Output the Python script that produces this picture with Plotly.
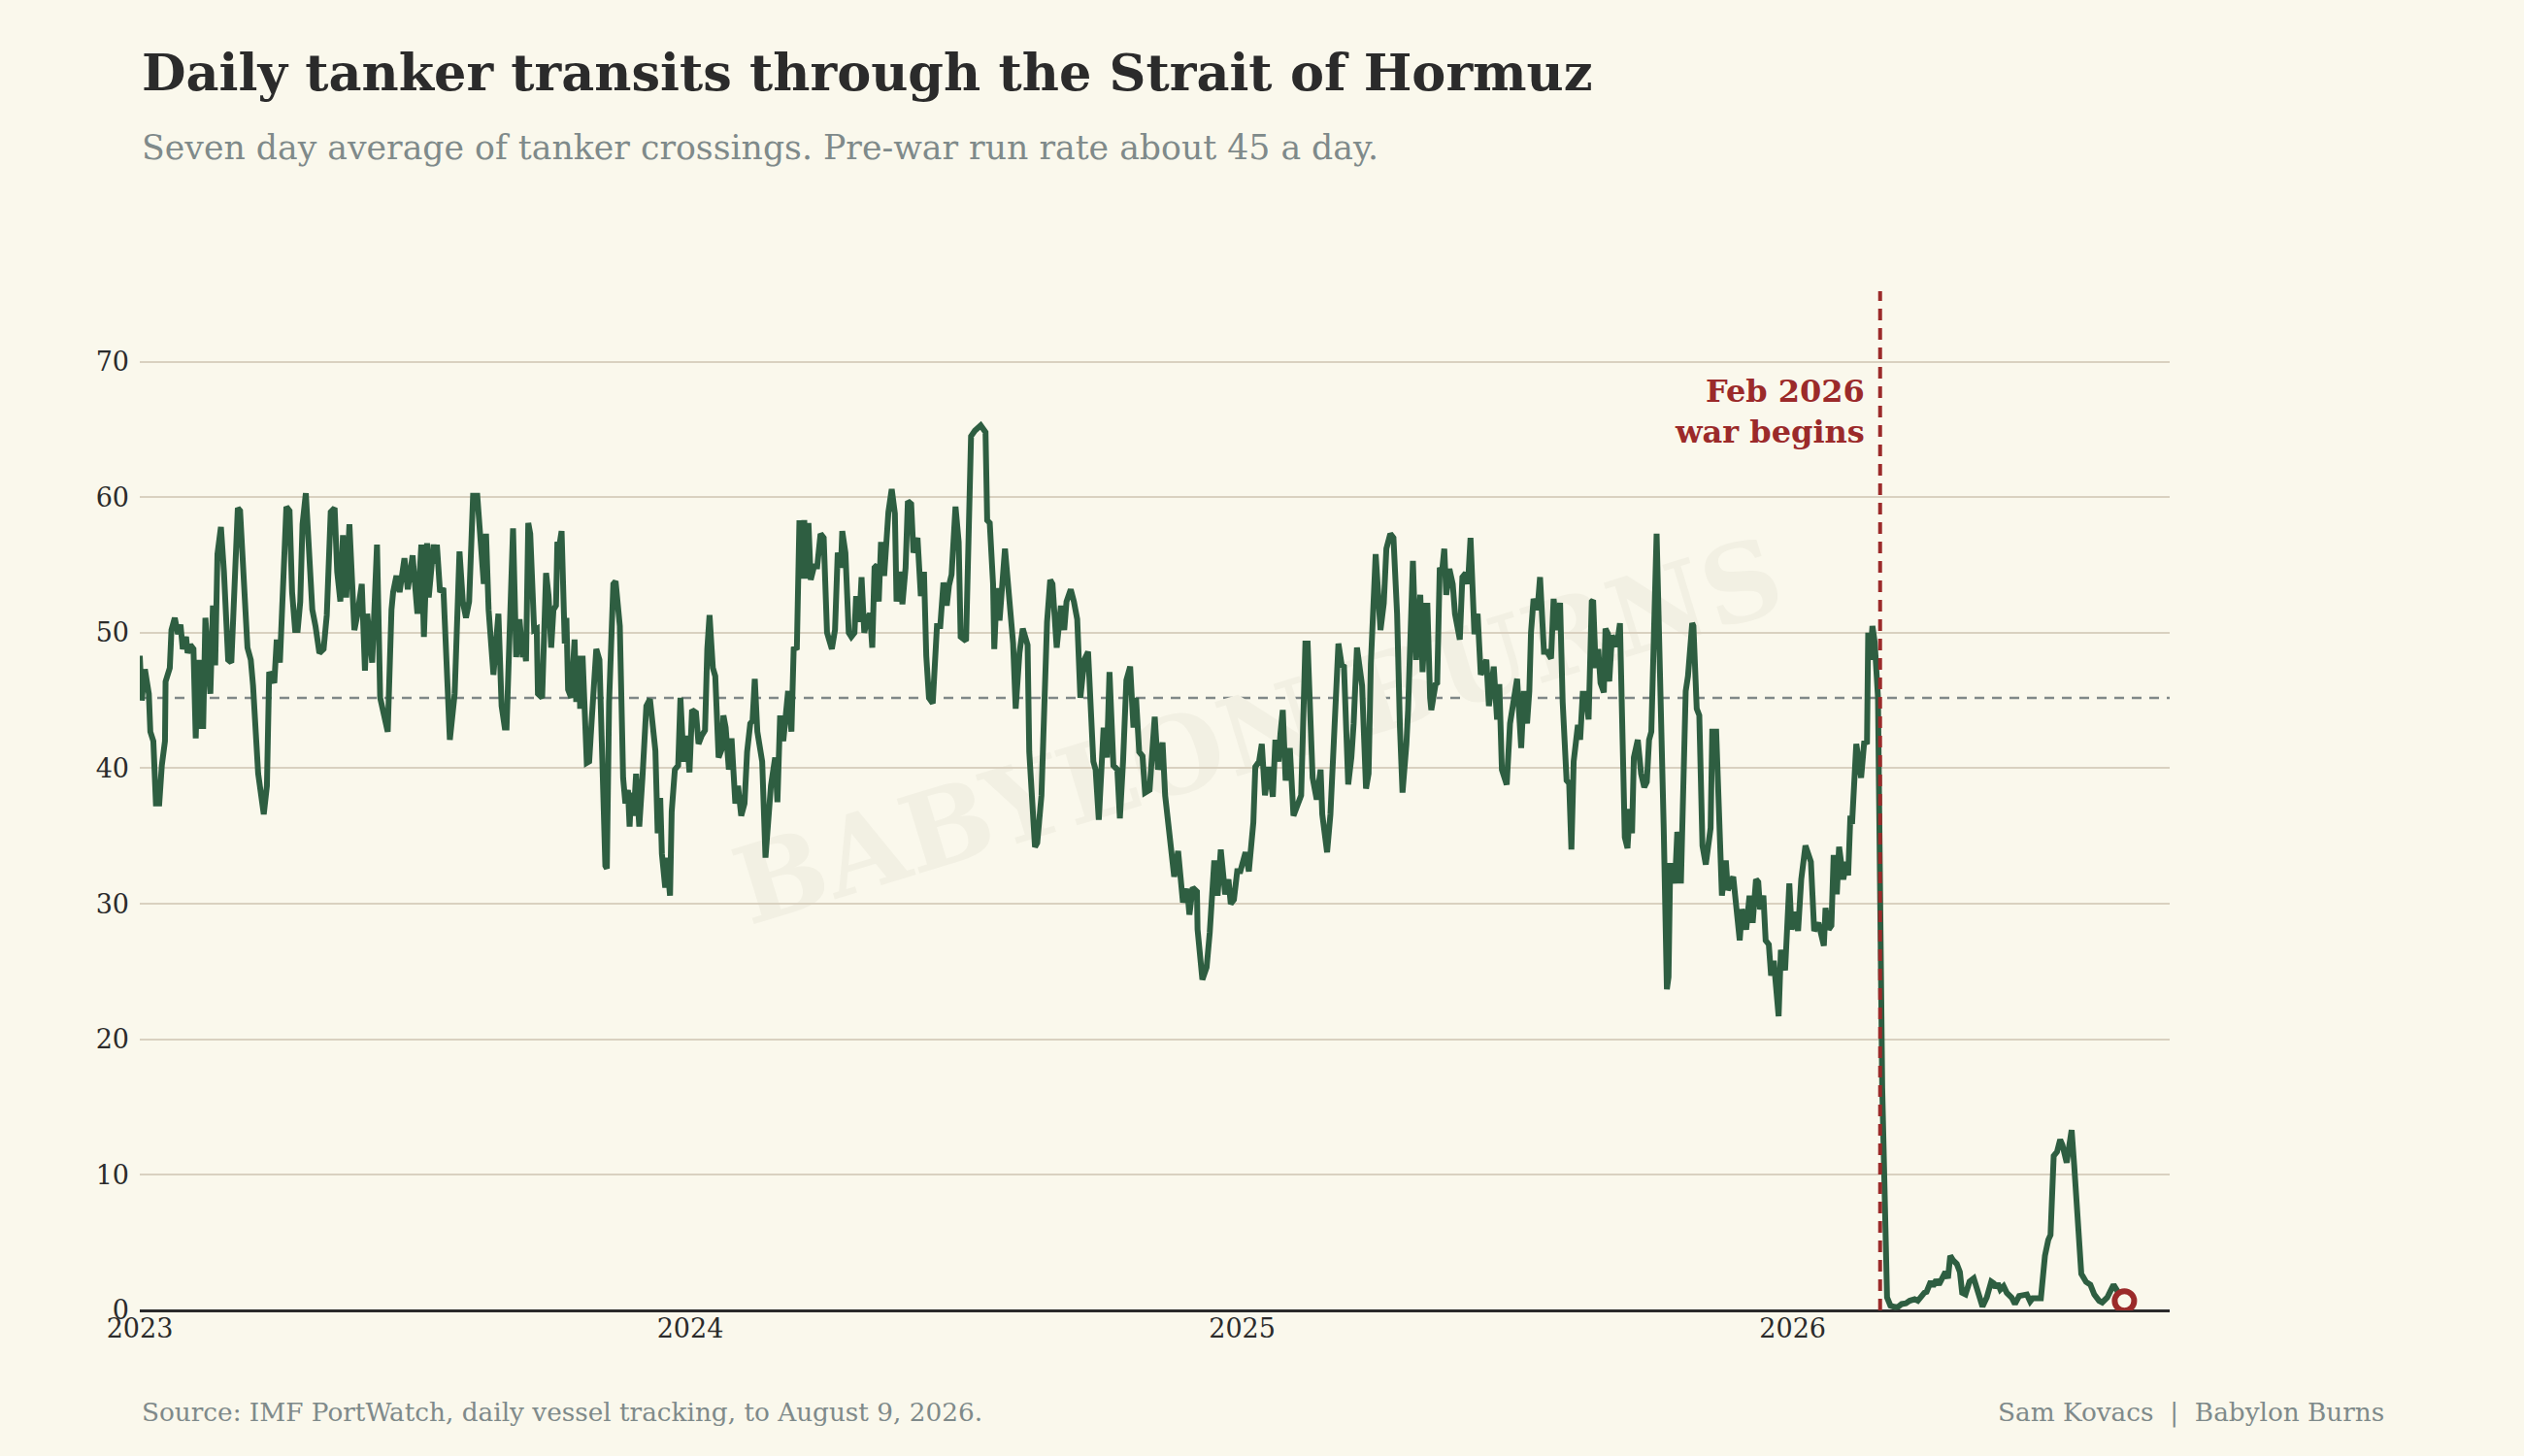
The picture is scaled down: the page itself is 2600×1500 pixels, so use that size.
import pandas as pd
import plotly.graph_objects as go

# days since 2023-01-01
day = [0, 1.3, 3.4, 6, 7, 9, 10.7, 12.9, 14.6, 16.7, 17.1, 19.9, 21, 23.2, 25.3, 27, 28.5, 30.7, 31.7, 33.5,
       35.6, 37.1, 38.6, 40.3, 41.4, 42, 43.5, 46.8, 48.5, 50, 51.5, 53.8, 55.8, 57.5, 58.6, 60.7, 62.9, 65,
       66.5, 69.3, 71.4, 73.6, 75.1, 78.5, 82.2, 84.3, 85.8, 89.2, 90.8, 92.9, 97.2, 99.3, 101, 103, 104.7,
       106.4, 107.9, 110.1, 112.2, 114.4, 116.5, 119.1, 121.9, 124, 126.6, 129.2, 130.9, 133, 134.7, 136.9,
       139, 142.3, 144.4, 147.2, 149.3, 150.8, 154.1, 157.3, 159.4, 161.6, 164.4, 166.9, 168, 170.2, 172.3,
       175.5, 177.7, 180.9, 184.1, 186.7, 188.4, 190.5, 191.6, 194.8, 195.9, 197, 199.1, 201.3, 202.3, 205.6,
       208.8, 212, 214.2, 216.3, 218.4, 219.5, 221, 223.8, 226, 228.1, 229.6, 231.3, 234.5, 236.7, 237.8,
       239.9, 242, 243.2,
       247.5, 249.6, 251.8, 253.9, 255, 256.1, 257.6, 258.9, 260.4, 261.5, 263.2, 264, 266.8, 269.4, 271.1,
       272.8, 274.3, 276, 276.9, 278.2, 279.7, 280.8, 281.8, 282.9, 284, 286.1, 288.3, 289.4, 291.1, 292,
       293.6, 296.4, 298, 299.7, 302.7, 304, 304.8, 308.7, 309.7, 311.2, 314, 315.5, 318.3, 320.5, 322,
       323.7, 324.8, 325.8, 327.5, 329.1, 331.2, 333.3, 335.9, 338.3, 341.9, 343.4, 345.1, 346.2, 348.4,
       349.4, 351.6, 352.7, 354.8, 357, 358.5, 360.6, 362.7, 364.5, 366.2, 368.8, 370.5, 372.6, 374.8,
       376.3, 377.8, 380, 381.6, 383.8, 385.9, 387, 388.5, 390.6, 392.4, 394.9, 396.7, 398.8, 401, 402.7,
       404.8, 406.3, 407.8, 409.5, 411.7, 412.7, 414.9, 417, 418.5, 421.3, 422.8, 424.6, 426.7, 429.9,
       432.1, 433.6, 435.7, 437.4, 439.1, 440.6, 442.1, 443.4, 444.9, 447.1, 449.2, 451.4, 453.5, 455.7,
       458.9, 461, 462.8, 464.9, 465.8, 467.9, 470.1, 471.8, 473.9, 475, 477.1, 478.6, 480.4,
       482.5, 484.2, 485.7, 487.2, 488.9, 490, 491.5, 493.6, 496.4, 498.6, 500.7, 501.8, 503.9, 505.7,
       507.8, 509.3, 511.5, 513, 515.7, 517.9, 520, 521.5, 523.3, 525.8, 528.6, 530.8, 532.9, 535.1, 536.6,
       538.3, 540.9, 543, 544.3, 547.9, 551.2, 553.7, 557.6, 560.8, 561.9, 563.6, 565.8, 566.6, 568.3,
       570.1, 573.7, 575.8, 578, 579.1, 580.8, 583.3, 585.5, 588.7, 589.8, 593.6, 595.1, 597.9, 601.6,
       603.7, 605.2, 608, 610.8, 613, 614.5, 617.3, 619.4, 621.6, 623.7, 626.3, 628.8, 632.3, 633.8, 635.9,
       639.1, 641.3, 643, 645.6, 648.2, 649.9, 652, 654.2, 656.7, 658.9, 660.6, 662.7, 664.9, 666.6, 669.6,
       673, 675.2, 678.2, 679.9, 682.1, 685.9, 688.5, 691.7, 694.5, 696, 698.2, 701, 701.4, 704.6, 707.4,
       709.5, 712.5, 714.7, 716.8, 718.5,
       719.7, 721.9, 723.4, 725.5, 727.7, 729.8, 733.2, 735.4, 736.9, 738.4, 739.7, 742.2, 744, 746.1,
       748.7, 751.3, 753, 755.1, 756.4, 757.9, 759.8, 762.6, 765, 768.4, 770.1, 772.9, 774.4, 777.7, 780.4,
       783, 784.1, 787.3, 789.5, 794.8, 797, 798.5, 801.3, 803.4, 804.9, 807.1, 810.5, 813.1, 814.8, 816.3,
       819.5, 822.7, 824.9, 826.6, 829.2, 831.3, 833.7, 835.6, 837.3, 839.9, 841, 844.2, 846.3, 849.1,
       850.6, 852.8, 853.8, 855.6, 856.4, 859.2, 860.3, 862, 863.5, 865, 866.3, 868.4, 870.6, 872.1, 875.3,
       877, 879.2, 880.7, 882.4, 885, 887.1, 889.2, 892.9, 894.6, 897.8, 900, 901.5, 903.2, 906.4, 908.6,
       910.7, 913.3, 916, 917.8, 919.9, 921.4, 922.5, 924.2, 926.8, 928.5, 931.1, 933.2, 935.8, 937.5,
       939.7, 941.8, 943.5, 946.1, 947.8, 949.3, 950.8, 953.6, 955.1, 956.8,
       958.6, 960.7, 962.8, 963.7, 965.4, 967.1, 968.6, 970.8, 971.9, 973.6, 974.4, 976.2, 977.9, 979.4,
       981.5, 982.6, 984.7, 986.5, 988, 989.5, 990.7, 993.3, 995.5, 997.6, 999.3, 1000.8, 1002.3, 1005.8,
       1007.3, 1010.5, 1012.6, 1013.7, 1014.8, 1016.5, 1018, 1019.5, 1020.8, 1021.9, 1025.1, 1026.6,
       1029.4, 1030.2, 1032.4, 1034.1, 1036.2, 1038.4, 1041.6, 1042.7, 1045.3, 1047.4, 1049.1, 1051.7,
       1053, 1056.6, 1058.8, 1060.9, 1062.4, 1065.2, 1067.4, 1069.5, 1071.7, 1073.2, 1074.4, 1076.6,
       1078.1, 1080.2, 1081.7, 1083.5, 1086.7, 1088.2, 1091, 1093.8, 1095.3, 1097.4, 1099.6, 1101.7,
       1104.5, 1108.1, 1110.3, 1113.1, 1116.7, 1117.8, 1119.9, 1121.7, 1123.2, 1125.3, 1126.8, 1129.6,
       1131.7, 1132.8, 1134.3, 1135.4, 1138.2, 1141.4, 1143.5, 1145.3, 1146.1, 1147.4, 1148.9, 1150.4,
       1152.6, 1153.8, 1155.4,
       1158.6, 1160.8, 1164, 1166.1, 1168.3, 1171.1, 1173.6, 1176.9, 1179, 1181.2, 1183.3, 1184.8, 1187.6,
       1189.1, 1191.2, 1193, 1195.1, 1197.3, 1199, 1200.5, 1202.6, 1204.8, 1206.9, 1208.4, 1210.6, 1213.3,
       1216.1, 1217.6, 1219.8, 1221.9, 1224.7, 1227.7, 1229.4, 1230.5, 1232, 1233.7, 1235.9, 1238, 1241.2,
       1243.4, 1246.2, 1248.8, 1251.3, 1253.5, 1255.2, 1260.6, 1261.6, 1263.3, 1265.5, 1267, 1269.1,
       1271.3, 1273.4, 1274.9, 1277.7, 1279.2, 1281, 1282.7, 1284.4, 1285.2, 1287.4, 1290.6, 1293.4, 1296,
       1299.2, 1301.3, 1304.6, 1306.7, 1308.8, 1311, 1313.1, 1316]

tankers = [48.3, 45.0, 47.3, 45.5, 42.7, 42.0, 37.4, 37.4, 40.2, 42.0, 46.4, 47.4, 50.2, 51.1, 49.9, 50.6, 48.8,
           49.7, 48.5, 49.1, 48.8, 42.2, 48.0, 42.9, 48.0, 42.9, 51.1, 45.5, 52.0, 47.6, 55.8, 57.8, 54.5, 50.2,
           48.0, 47.8, 54.5, 59.2, 59.0, 52.3, 48.9, 48.0, 46.1, 39.6, 36.6, 38.7, 47.1, 46.3, 49.5, 47.8, 59.3,
           59.0, 53.0, 50.2, 50.2, 52.3, 58.0, 60.3, 55.1, 51.7, 50.5, 48.5, 48.8, 51.3, 58.9, 59.2, 54.5, 52.3,
           57.2, 52.6, 58.0, 50.2, 51.4, 53.6, 47.2, 51.4, 47.8, 56.5, 45.2, 44.0, 42.7, 51.7, 53.0, 54.2, 53.0,
           55.5, 53.2, 55.7, 51.4, 56.5, 49.7, 56.6, 52.6, 56.5, 55.1, 56.5, 53.0, 53.3, 51.1, 42.1, 45.5, 56.0,
           52.3, 51.1, 52.3, 57.3, 60.1, 60.1, 57.0, 53.6, 57.3, 51.7, 46.9, 50.3, 51.4, 44.6, 43.0, 43.0,
           57.7, 48.2, 51.0, 48.2, 49.1, 47.9, 58.1, 57.3, 53.3, 50.2, 50.3, 45.5, 45.2, 54.4, 52.7, 48.9, 51.7,
           52.0, 56.7, 56.4, 57.5, 51.1, 49.2, 51.1, 45.8, 45.2, 49.5, 44.9, 48.3, 44.4, 48.3, 40.4, 40.5, 43.6,
           48.8, 48.3, 48.0, 32.8, 32.6, 44.9, 53.6, 53.8, 50.5, 39.3, 37.4, 38.4, 35.7, 38.2, 36.5, 39.6, 35.7,
           39.3, 44.6, 45.1, 41.3, 35.2, 37.8, 33.7, 31.2, 33.4, 30.6, 36.8, 39.9, 40.2, 45.2, 40.5, 42.4, 39.7,
           44.3, 44.1, 41.8, 42.4, 42.8, 48.8, 51.3, 47.4, 46.8, 40.8, 41.4, 43.9, 43.0, 39.9, 42.2, 37.4, 38.7,
           36.5, 37.4, 41.2, 43.3, 43.5, 46.6, 42.7, 40.8, 40.5, 33.4, 36.5, 38.7, 40.8, 37.5, 43.9, 42.0, 45.7,
           42.7, 48.8, 48.9, 58.3, 54.0, 58.3, 54.0, 58.1, 53.9, 54.9, 54.9, 57.3, 57.0, 50.0, 48.8, 50.2, 55.9,
           54.8, 57.5, 55.9, 50.0, 49.7, 50.0, 52.7, 50.8, 54.1, 50.0,
           51.1, 51.4, 48.9, 54.8, 55.0, 52.3, 56.7, 54.2, 58.9, 60.6, 58.8, 52.3, 54.5, 52.1, 54.8, 59.7, 59.5,
           55.9, 57.0, 52.7, 54.5, 48.3, 45.2, 44.8, 50.5, 50.5, 53.7, 52.0, 53.5, 54.3, 59.3, 56.7, 49.7, 49.4,
           64.5, 64.9, 65.3, 64.8, 58.3, 58.1, 53.6, 48.8, 53.3, 50.9, 56.2, 53.6, 51.7, 49.2, 44.4, 48.5, 50.3,
           49.1, 41.2, 34.2, 34.5, 38.0, 50.8, 53.9, 53.6, 48.9, 52.0, 50.2, 52.3, 53.2, 52.3, 51.0, 45.2, 48.0,
           48.6, 40.5, 39.9, 36.2, 43.0, 40.8, 47.1, 40.2, 39.9, 36.3, 40.5, 46.5, 47.5, 43.0, 45.2, 41.2, 40.9,
           38.2, 38.4, 43.8, 39.9, 41.9, 38.0, 35.9, 32.0, 33.9, 30.1, 31.1, 29.2, 31.2, 30.9, 28.1, 24.4, 25.3,
           27.9, 33.2, 30.6, 34.0, 31.2,
           30.7, 31.8, 30.0, 30.3, 32.4, 32.4, 33.8, 32.4, 34.6, 36.0, 40.1, 40.5, 41.8, 38.0, 40.1, 37.9, 42.1,
           40.5, 42.6, 44.3, 39.1, 41.5, 36.5, 37.7, 38.0, 49.2, 49.2, 39.3, 37.7, 39.9, 36.6, 33.8, 36.6, 49.2,
           47.6, 47.5, 38.8, 40.8, 43.3, 48.9, 46.1, 38.5, 39.6, 47.7, 55.8, 50.2, 52.2, 56.2, 57.3, 57.0, 51.4,
           43.0, 38.2, 41.8, 44.3, 55.3, 48.0, 52.8, 47.1, 52.0, 52.0, 45.2, 44.3, 46.2, 46.3, 54.8, 54.5, 56.2,
           52.8, 54.7, 53.6, 51.4, 49.5, 54.1, 54.4, 53.6, 57.0, 49.9, 51.4, 46.9, 48.0, 44.6, 47.5, 43.6, 46.2,
           39.9, 38.8, 43.3, 44.7, 46.6, 41.5, 45.7, 43.3, 45.7, 50.0, 52.5, 51.7, 54.1, 48.6, 48.6, 48.1, 52.5,
           50.2, 52.2, 44.9, 39.1, 38.9, 34.0, 40.5, 43.2, 42.1, 45.5,
           45.5, 43.6, 52.3, 52.4, 47.4, 48.8, 46.3, 45.6, 50.3, 49.9, 46.4, 49.8, 49.3, 49.0, 50.7, 44.9, 34.9,
           34.1, 37.0, 35.2, 40.8, 42.1, 39.6, 38.6, 39.0, 42.1, 42.7, 57.3, 51.1, 35.6, 23.7, 24.6, 32.8, 32.8,
           31.5, 35.3, 34.7, 31.5, 45.7, 46.8, 50.7, 50.5, 44.4, 43.9, 34.3, 32.9, 35.6, 42.7, 42.7, 35.2, 30.6,
           33.2, 31.0, 32.0, 29.0, 27.3, 29.6, 28.1, 30.6, 28.6, 31.8, 31.6, 29.6, 30.6, 27.3, 27.0, 24.7, 25.8,
           21.7, 26.6, 25.1, 31.5, 28.1, 29.4, 28.0, 31.8, 34.3, 33.1, 28.0, 28.6, 26.9, 29.7, 28.1, 28.4, 33.6,
           30.7, 34.2, 31.8, 33.1, 32.1, 36.5, 35.9, 41.8, 39.3, 42.0, 41.8, 50.0, 48.0, 50.5, 49.3, 45.2, 26.6,
           16.4,
           0.95, 0.36, 0.24, 0.28, 0.47, 0.52, 0.71, 0.83, 0.71, 1.07, 1.3, 1.37, 2.13, 1.78, 2.25, 1.9, 2.37,
           2.84, 2.37, 4.03, 3.67, 3.44, 2.84, 1.3, 1.18, 2.13, 2.37, 1.9, 0.95, 0.28, 0.95, 2.13, 2.0, 1.66, 2.0,
           1.54, 1.78, 1.3, 0.95, 0.47, 1.07, 1.18, 1.18, 0.66, 0.9, 0.9, 2.13, 4.03, 5.2, 5.57, 11.4, 11.7,
           12.6, 12.2, 10.9, 12.2, 13.3, 10.7, 7.6, 7.1, 2.7, 2.1, 1.9, 1.18, 0.71, 0.59, 0.95, 1.42, 1.9, 1.5,
           0.95, 0.7]

start = pd.Timestamp("2023-01-01")
dates = [start + pd.Timedelta(days=d) for d in day]

prewar_avg = 45.2
war_date = "2026-02-28"
year_ticks = ["2023-01-01", "2024-01-01", "2025-01-01", "2026-01-01"]
year_labels = ["2023", "2024", "2025", "2026"]

BG = "#faf8ec"
GREEN = "#2e5e41"
RED = "#9b2a2a"
GREY = "#7f8a8a"
FONT = "DejaVu Serif"

fig = go.Figure()

fig.add_trace(go.Scatter(x=dates, y=tankers, mode="lines",
                         line=dict(color=GREEN, width=6), hoverinfo="skip", showlegend=False))
fig.add_trace(go.Scatter(x=[dates[-1]], y=[tankers[-1]], mode="markers",
                         marker=dict(size=20, color=BG, line=dict(color=RED, width=6)),
                         showlegend=False))

# pre-war run rate
fig.add_shape(type="line", xref="paper", yref="y", x0=0, x1=1, y0=prewar_avg, y1=prewar_avg,
              line=dict(color="#808888", width=2.5, dash="10px,8px"), layer="between")
# war start
fig.add_shape(type="line", xref="x", yref="paper", x0=war_date, x1=war_date, y0=0, y1=1,
              line=dict(color=RED, width=4, dash="12px,8px"), layer="above")
# watermark
fig.add_shape(type="rect", xref="paper", yref="paper", x0=0.3, x1=0.8, y0=0.4, y1=0.75,
              line=dict(width=0), fillcolor="rgba(0,0,0,0)", layer="between",
              label=dict(text="BABYLON BURNS", textangle=-17, textposition="middle center",
                         font=dict(size=110, color="#f2f0e3", family=FONT, weight="bold")))

fig.add_annotation(x=war_date, y=66.3, xref="x", yref="y", xanchor="right", yanchor="middle",
                   xshift=-14, text="<b>Feb 2026<br>war begins</b>", showarrow=False, align="right",
                   font=dict(family=FONT, size=32, color=RED))

fig.add_annotation(x=0, y=1.2145, xref="paper", yref="paper", xanchor="left", yanchor="middle",
                   text="<b>Daily tanker transits through the Strait of Hormuz</b>", showarrow=False,
                   font=dict(family=FONT, size=52.5, color="#2b2b2b"))
fig.add_annotation(x=0, y=1.141, xref="paper", yref="paper", xanchor="left", yanchor="middle",
                   text="Seven day average of tanker crossings. Pre-war run rate about 45 a day.",
                   showarrow=False, font=dict(family=FONT, size=34.7, color=GREY))
fig.add_annotation(x=0, y=-0.1, xref="paper", yref="paper", xanchor="left", yanchor="middle",
                   text="Source: IMF PortWatch, daily vessel tracking, to August 9, 2026.",
                   showarrow=False, font=dict(family=FONT, size=26.3, color=GREY))
fig.add_annotation(x=1.1067, y=-0.1, xref="paper", yref="paper", xanchor="right", yanchor="middle",
                   text="Sam Kovacs  |  Babylon Burns",
                   showarrow=False, font=dict(family=FONT, size=26.3, color=GREY))

fig.update_layout(
    width=2600, height=1500,
    margin=dict(l=144, r=365, t=300, b=150),
    paper_bgcolor=BG, plot_bgcolor=BG,
    font=dict(family=FONT, size=27, color="#2b2b2b"),
)
fig.update_xaxes(range=["2023-01-01", "2026-09-08"], tickvals=year_ticks, ticktext=year_labels,
                 showgrid=False, zeroline=False, showline=False, ticks="",
                 tickfont=dict(size=27, color="#2b2b2b"))
fig.update_yaxes(range=[0, 75.2], tickvals=[0, 10, 20, 30, 40, 50, 60, 70], showgrid=True,
                 gridcolor="#d9d1c0", gridwidth=2, zeroline=True, zerolinecolor="#2b2b2b",
                 zerolinewidth=3, showline=False, ticks="", ticklabelstandoff=10,
                 tickfont=dict(size=27, color="#2b2b2b"))

fig.write_html("out.html", config={"displayModeBar": False},
               post_script="document.body.style.margin='0';")
